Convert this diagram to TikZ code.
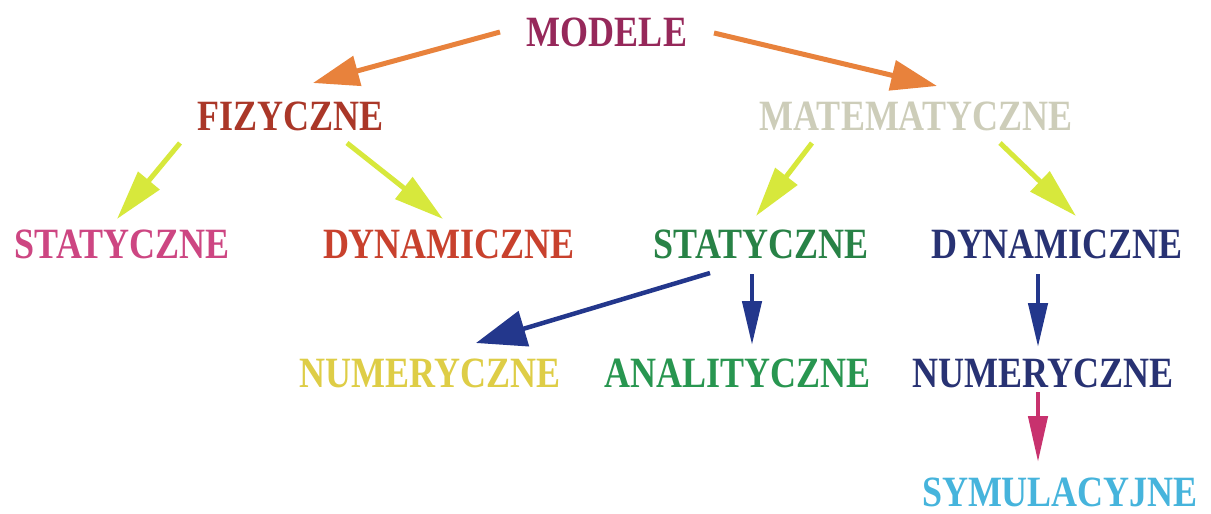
\documentclass[tikz,border=0pt]{standalone}
\usepackage{fontspec}
\setmainfont{Liberation Serif}
\usetikzlibrary{arrows.meta}
\definecolor{cModele}{RGB}{150,40,90}
\definecolor{cFiz}{RGB}{170,55,40}
\definecolor{cMat}{RGB}{205,205,185}
\definecolor{cPink}{RGB}{205,70,130}
\definecolor{cRed}{RGB}{200,65,45}
\definecolor{cGreen}{RGB}{40,130,70}
\definecolor{cGreenB}{RGB}{40,150,80}
\definecolor{cNavy}{RGB}{40,50,115}
\definecolor{cYellow}{RGB}{222,205,70}
\definecolor{cCyan}{RGB}{70,180,220}
\definecolor{aOrange}{RGB}{232,130,60}
\definecolor{aYellow}{RGB}{215,232,60}
\definecolor{aBlue}{RGB}{35,55,140}
\definecolor{aPink}{RGB}{200,50,110}
\tikzset{
  lbl/.style={inner sep=0pt, anchor=base, font=\bfseries\fontsize{36}{36}\selectfont},
  orangearrow/.style={draw=aOrange, fill=aOrange, line width=5pt, -{Triangle[length=46pt,width=30pt]}},
  yellowarrow/.style={draw=aYellow, fill=aYellow, line width=5pt, -{Triangle[length=50pt,width=27pt]}},
  bluearrow/.style={draw=aBlue, fill=aBlue, line width=4.5pt, -{Triangle[length=#1]}},
  pinkarrow/.style={draw=aPink, fill=aPink, line width=4.5pt, -{Triangle[length=46pt,width=19pt]}},
}
\newcommand{\tall}[1]{\scalebox{1}[1.2]{#1}}
\begin{document}
\begin{tikzpicture}[x=1pt,y=-1pt]
\useasboundingbox (0,0) rectangle (1211,514);
\fill[white] (0,0) rectangle (1211,514);

% labels
\node[lbl, text=cModele] (modele) at (607,46) {\tall{MODELE}};
\node[lbl, text=cFiz] (fiz) at (291,130) {\tall{FIZYCZNE}};
\node[lbl, text=cMat] (mat) at (916,130) {\tall{MATEMATYCZNE}};
\node[lbl, text=cPink] (fstat) at (122,258) {\tall{STATYCZNE}};
\node[lbl, text=cRed] (fdyn) at (449,258) {\tall{DYNAMICZNE}};
\node[lbl, text=cGreen] (mstat) at (761,258) {\tall{STATYCZNE}};
\node[lbl, text=cNavy] (mdyn) at (1057,258) {\tall{DYNAMICZNE}};
\node[lbl, text=cYellow] (snum) at (430,387) {\tall{NUMERYCZNE}};
\node[lbl, text=cGreenB] (sanal) at (738,387) {\tall{ANALITYCZNE}};
\node[lbl, text=cNavy] (dnum) at (1043,387) {\tall{NUMERYCZNE}};
\node[lbl, text=cCyan] (sym) at (1060,506) {\tall{SYMULACYJNE}};

% connector end points
\coordinate (m-f) at (500,32);   \coordinate (f-in) at (313,83);
\coordinate (m-m) at (714,33);   \coordinate (m-in) at (937,86);
\coordinate (f-s) at (180,143);  \coordinate (fs-in) at (117,219);
\coordinate (f-d) at (347,143);  \coordinate (fd-in) at (443,219);
\coordinate (t-s) at (812,143);  \coordinate (ms-in) at (756,216);
\coordinate (t-d) at (1000,143); \coordinate (md-in) at (1076,216);
\coordinate (s-n) at (710,273);  \coordinate (sn-in) at (476,343);
\coordinate (s-a) at (752,274);  \coordinate (sa-in) at (752,345);
\coordinate (d-n) at (1038,274); \coordinate (dn-in) at (1038,347);
\coordinate (n-s) at (1038,392); \coordinate (ns-in) at (1038,462);

% connectors
\draw[orangearrow] (m-f) -- (f-in);
\draw[orangearrow] (m-m) -- (m-in);
\draw[yellowarrow] (f-s) -- (fs-in);
\draw[yellowarrow] (f-d) -- (fd-in);
\draw[yellowarrow] (t-s) -- (ms-in);
\draw[yellowarrow] (t-d) -- (md-in);
\draw[bluearrow={50pt,width=36pt}] (s-n) -- (sn-in);
\draw[bluearrow={44pt,width=19pt}] (s-a) -- (sa-in);
\draw[bluearrow={44pt,width=19pt}] (d-n) -- (dn-in);
\draw[pinkarrow] (n-s) -- (ns-in);
\end{tikzpicture}
\end{document}
